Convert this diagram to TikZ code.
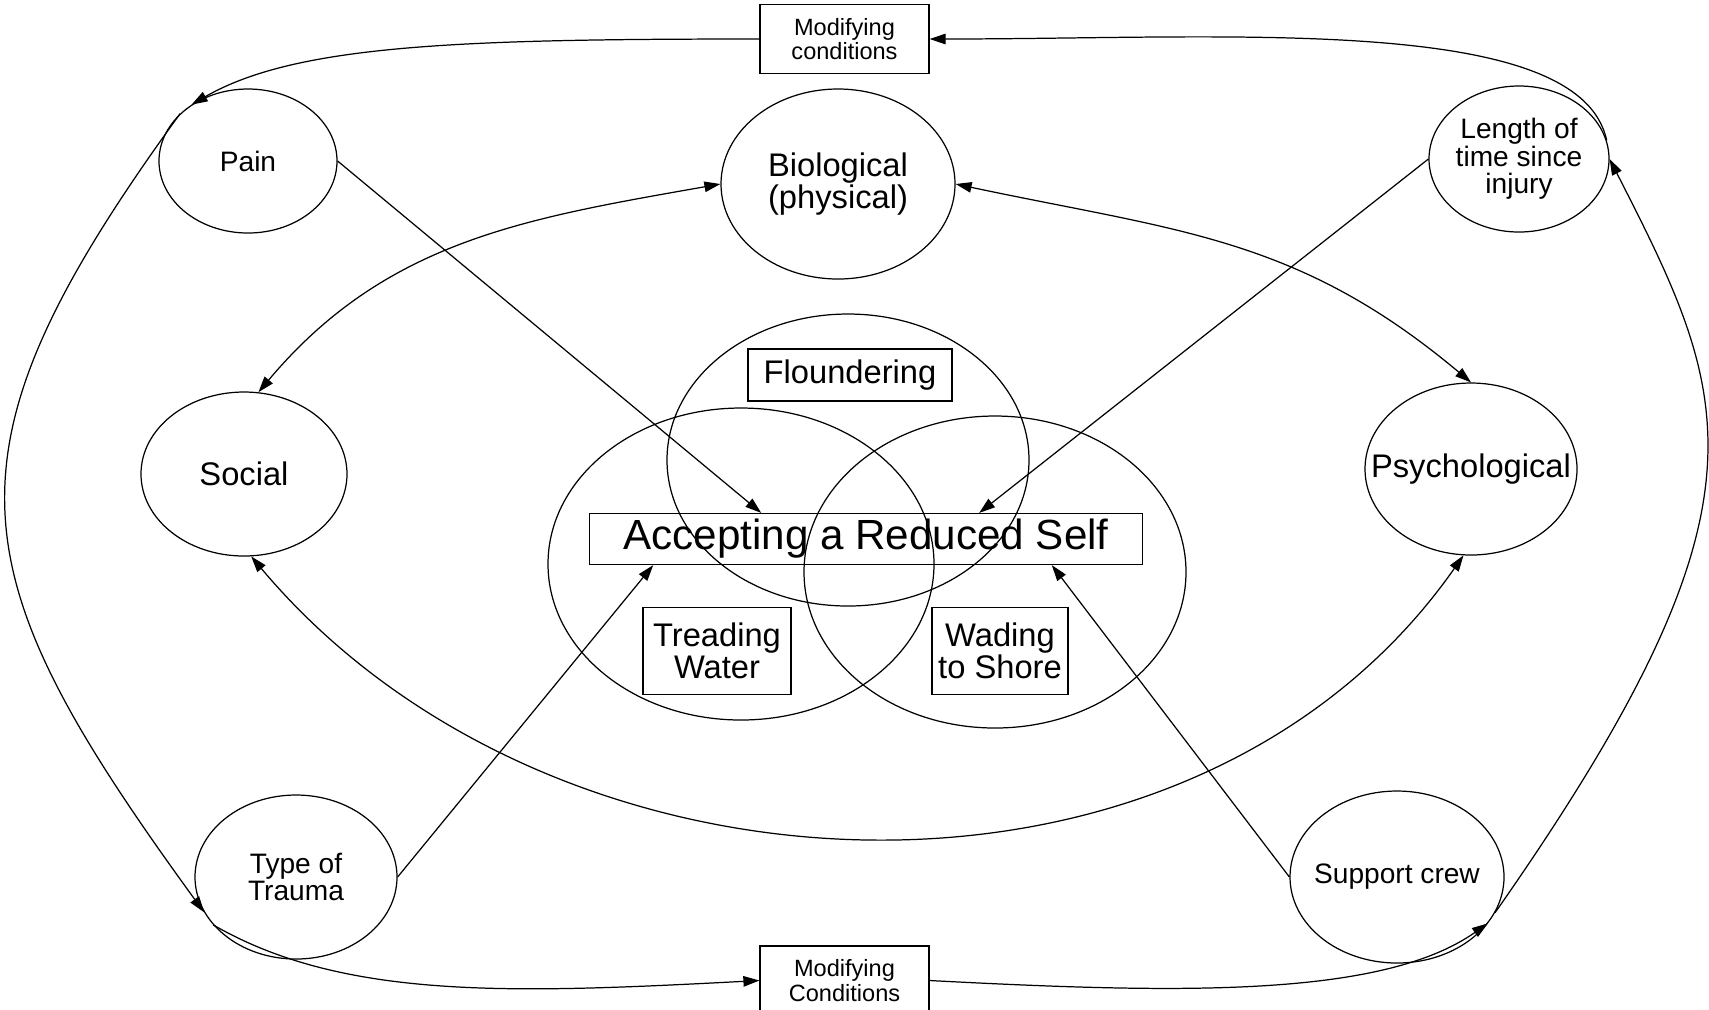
\documentclass[tikz,border=0pt]{standalone}
\usepackage{fontspec}
\setmainfont{Liberation Sans}
\usepackage{tikz}
\usetikzlibrary{arrows.meta,positioning,shapes.geometric}
\newcommand{\sizeL}{\fontsize{12}{14}\selectfont}
\newcommand{\sizeM}{\fontsize{9.3}{9.2}\selectfont}
\newcommand{\sizeS}{\fontsize{8}{7.8}\selectfont}
\newcommand{\sizeXS}{\fontsize{6.7}{7}\selectfont}
\tikzset{
    oval/.style 2 args={ellipse, draw, line width=0.35pt, inner sep=0pt,
                        minimum width=#1, minimum height=#2},
    lblM/.style={font=\sizeM, align=center},
    lblS/.style={font=\sizeS, align=center},
    cond/.style={rectangle, draw, line width=0.35pt, inner sep=0pt, align=center,
                 minimum width=1.69cm, minimum height=0.69cm, font=\sizeXS},
    phase/.style={rectangle, draw, line width=0.35pt, inner sep=0pt, align=center,
                  font=\sizeM},
    arr/.style={-{Triangle[length=1.6mm,width=1.05mm]}, line width=0.35pt},
    arrb/.style={{Triangle[length=1.6mm,width=1.05mm]}-{Triangle[length=1.6mm,width=1.05mm]},
                 line width=0.35pt},
}
\begin{document}
\begin{tikzpicture}
    \useasboundingbox (0,0) rectangle (17.09,-10.09);

    % overlapping phases
    \node[oval={3.62cm}{2.92cm}] (vtop) at (8.48,-4.60) {};
    \node[oval={3.86cm}{3.12cm}] (vleft) at (7.41,-5.64) {};
    \node[oval={3.82cm}{3.12cm}] (vright) at (9.95,-5.72) {};
    \node[phase, minimum width=2.04cm, minimum height=0.52cm] (flounder) at (8.50,-3.75) {Floundering};
    \node[rectangle, draw, line width=0.35pt, inner sep=0pt, font=\sizeL,
          minimum width=5.53cm, minimum height=0.51cm] (accept) at (8.66,-5.39) {Accepting a Reduced Self};
    \node[phase, minimum width=1.48cm, minimum height=0.87cm] (tread) at (7.17,-6.51) {Treading\\Water};
    \node[phase, minimum width=1.36cm, minimum height=0.87cm] (wade) at (10.00,-6.51) {Wading\\to Shore};

    % domains
    \node[oval={2.34cm}{1.90cm}, label={[lblM]center:Biological\\(physical)}] (bio) at (8.38,-1.84) {};
    \node[oval={2.06cm}{1.64cm}, label={[lblM]center:Social}] (social) at (2.44,-4.74) {};
    \node[oval={2.12cm}{1.72cm}, label={[lblM]center:Psychological}] (psych) at (14.71,-4.69) {};

    % modifying factors
    \node[oval={1.78cm}{1.44cm}, label={[lblS]center:Pain}] (pain) at (2.48,-1.61) {};
    \node[oval={1.80cm}{1.46cm}, label={[lblS]center:Length of\\time since\\injury}] (length) at (15.19,-1.59) {};
    \node[oval={2.02cm}{1.64cm}, label={[lblS]center:Type of\\Trauma}] (trauma) at (2.96,-8.77) {};
    \node[oval={2.14cm}{1.72cm}, label={[lblS]center:Support crew}] (support) at (13.97,-8.77) {};
    \node[cond] (topcond) at (8.445,-0.39) {Modifying\\conditions};
    \node[cond] (botcond) at (8.445,-9.805) {Modifying\\Conditions};

    \draw[arrb] (social.80) to[out=50,in=190] (bio.west);
    \draw[arrb] (bio.east) to[out=-12,in=140,looseness=1.05] (psych.north);
    \draw[arrb] (social.-85) to[out=-50,in=235] (psych.-95);

    \draw[arr] (pain.east) -- (accept.166.5);
    \draw[arr] (length.west) -- (accept.13.2);
    \draw[arr] (trauma.east) -- (accept.187.6);
    \draw[arr] (support.west) -- (accept.352.4);

    % outer loop
    \draw[arr] (topcond.west) to[out=180,in=30,out distance=3cm,in distance=1.2cm] (pain.135);
    \draw[arr] (pain.145) to[out=234,in=126,looseness=1.35] (trauma.201);
    \draw[arr] (trauma.210) to[out=-30,in=183,out distance=1.5cm,in distance=2.5cm] (botcond.west);
    \draw[arr] (botcond.east) to[out=-3,in=215,out distance=2.5cm,in distance=1.3cm] (support.-27);
    \draw[arr] (support.-20) to[out=55,in=297,out distance=5cm,in distance=2.7cm] (length.east);
    \draw[arr] (length.12) to[out=102,in=0,out distance=1.3cm,in distance=3cm] (topcond.east);
\end{tikzpicture}
\end{document}
